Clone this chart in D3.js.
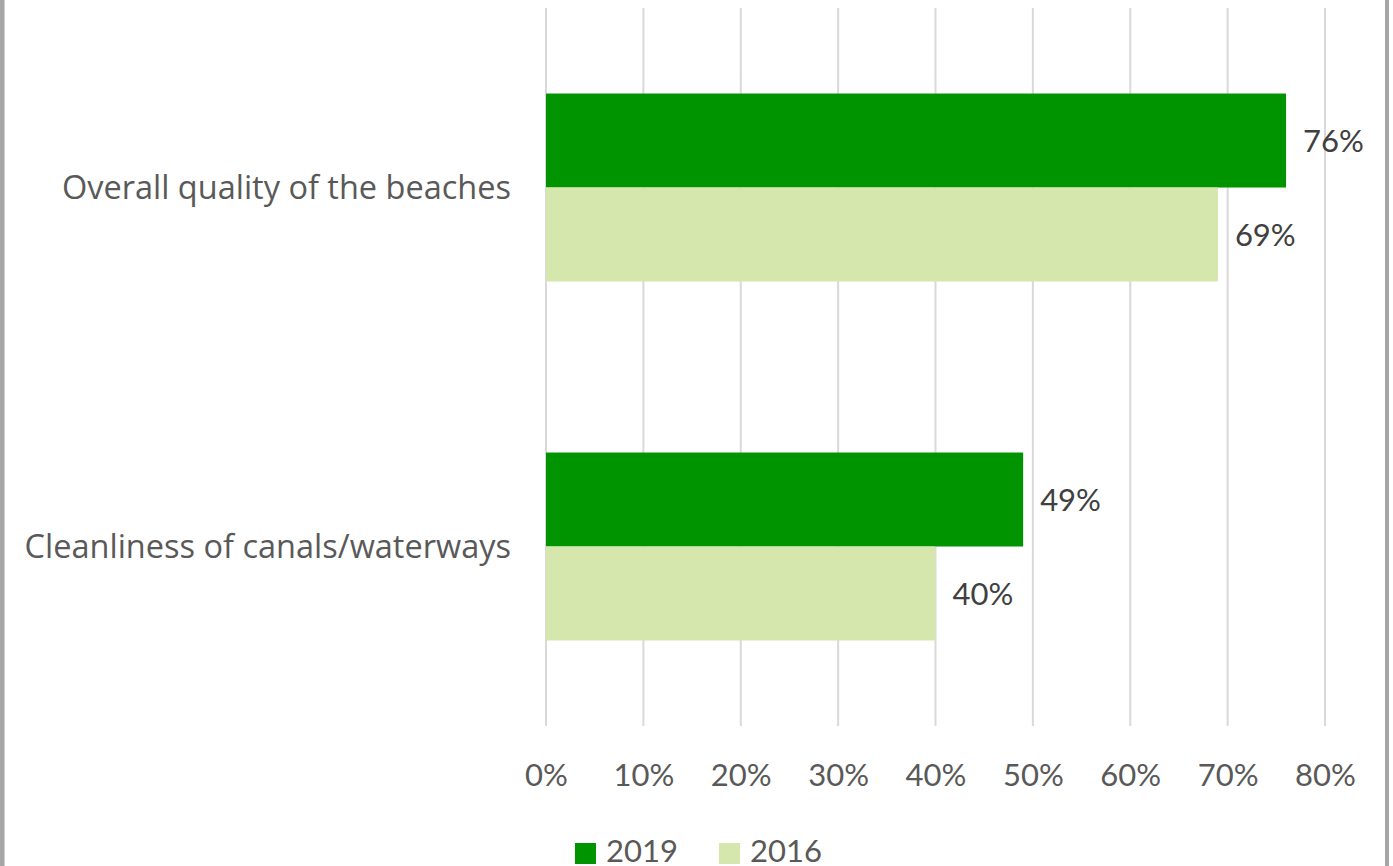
<!DOCTYPE html>
<html>
<head>
<meta charset="utf-8">
<script src="https://cdn.jsdelivr.net/npm/d3@7/dist/d3.min.js"></script>
<style>
  html, body { margin: 0; padding: 0; background: #ffffff; }
  svg { display: block; }
  text { font-family: Lato, "Open Sans", sans-serif; }
</style>
</head>
<body>
<svg id="chart" width="1393" height="866"></svg>
<script>
const categories = ["Overall quality of the beaches", "Cleanliness of canals/waterways"];
const seriesNames = ["2019", "2016"];
const values2019 = [0.76, 0.49];
const values2016 = [0.69, 0.40];
const tickValues = [0, 0.1, 0.2, 0.3, 0.4, 0.5, 0.6, 0.7, 0.8];
const colors = ["#009400", "#d5e7ac"];

const seriesValues = [values2019, values2016];
const W = 1393, H = 866;
const plot = { left: 546, right: 1325, top: 8, bottom: 726 };

const svg = d3.select("#chart");

// frame borders
svg.append("rect").attr("x", 0).attr("y", 0).attr("width", 4).attr("height", H).attr("fill", "#a6a6a6");
svg.append("rect").attr("x", 4).attr("y", 0).attr("width", 1).attr("height", H).attr("fill", "#d0d0d0");
svg.append("rect").attr("x", 1385).attr("y", 0).attr("width", 4).attr("height", H).attr("fill", "#a6a6a6");

const x = d3.scaleLinear().domain([0, 0.8]).range([plot.left, plot.right]);
const y0 = d3.scaleBand().domain(categories).range([plot.top, plot.bottom]).padding(0);
const y1 = d3.scaleBand().domain(seriesNames).range([0, y0.bandwidth()]).paddingInner(0).paddingOuter(0.91);

// gridlines
svg.append("g").selectAll("line").data(tickValues).join("line")
  .attr("x1", d => x(d)).attr("x2", d => x(d))
  .attr("y1", plot.top).attr("y2", plot.bottom)
  .attr("stroke", "#d9d9d9").attr("stroke-width", 2);

// bars
const rows = [];
categories.forEach((c, i) => {
  seriesNames.forEach((s, j) => rows.push({ cat: c, ser: s, val: seriesValues[j][i], color: colors[j] }));
});

svg.append("g").selectAll("rect").data(rows).join("rect")
  .attr("x", x(0))
  .attr("y", d => y0(d.cat) + y1(d.ser))
  .attr("width", d => x(d.val) - x(0))
  .attr("height", y1.bandwidth())
  .attr("fill", d => d.color);

// value labels
svg.append("g").selectAll("text").data(rows).join("text")
  .attr("x", d => x(d.val) + 17)
  .attr("y", d => y0(d.cat) + y1(d.ser) + y1.bandwidth() / 2)
  .attr("dy", "0.36em")
  .attr("font-size", 31)
  .attr("fill", "#404040")
  .text(d => d3.format(".0%")(d.val));

// category labels
svg.append("g").selectAll("text").data(categories).join("text")
  .attr("x", plot.left - 35)
  .attr("y", d => y0(d) + y0.bandwidth() / 2)
  .attr("dy", "0.36em")
  .attr("text-anchor", "end")
  .attr("font-size", 32.5)
  .style("font-family", "'Open Sans', sans-serif")
  .attr("fill", "#595959")
  .text(d => d);

// x axis tick labels
const xAxis = d3.axisBottom(x).tickValues(tickValues).tickFormat(d3.format(".0%")).tickSize(0).tickPadding(0);
const gx = svg.append("g").attr("transform", `translate(0, ${plot.bottom})`).call(xAxis);
gx.select(".domain").remove();
gx.selectAll("text")
  .attr("y", 60)
  .attr("dy", 0)
  .attr("font-size", 31)
  .attr("font-family", "Lato, 'Open Sans', sans-serif")
  .attr("fill", "#595959");

// legend
const legendX = [575, 719];
const lg = svg.append("g").selectAll("g").data(seriesNames).join("g")
  .attr("transform", (d, i) => `translate(${legendX[i]}, 843)`);
lg.append("rect").attr("width", 21).attr("height", 21).attr("fill", (d, i) => colors[i]);
lg.append("text").attr("x", 31).attr("y", 19).attr("font-size", 31).attr("fill", "#595959").text(d => d);
</script>
</body>
</html>
